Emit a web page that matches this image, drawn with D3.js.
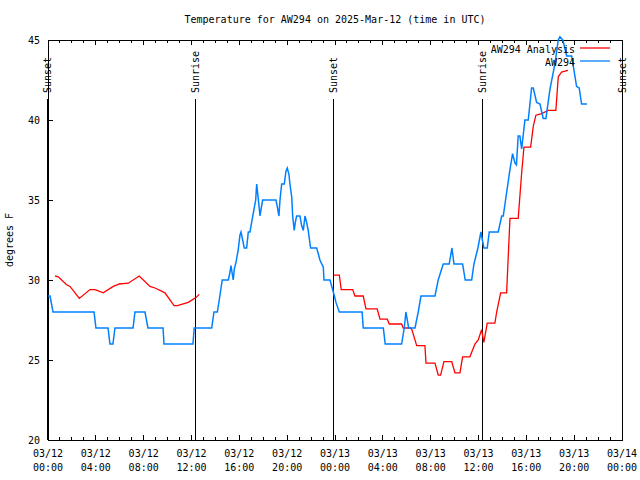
<!DOCTYPE html>
<html><head><meta charset="utf-8">
<script src="https://cdn.jsdelivr.net/npm/d3@7"></script>
<style>
html,body{margin:0;padding:0;background:#fff;}
text{font-family:"DejaVu Sans Mono","Liberation Mono",monospace;font-size:10px;fill:#000;}
</style></head>
<body>
<svg id="chart" width="640" height="480"></svg>
<script>
// ---- data (hours after 2025-03-12 00:00 UTC, temperature in degrees F) ----
const title = "Temperature for AW294 on 2025-Mar-12 (time in UTC)";
const yLabel = "degrees F";
const seriesNames = ["AW294 Analysis", "AW294"];
const seriesColors = ["#ff0000", "#0080ff"];

const stationHours = [0.00,0.17,0.42,3.85,4.01,5.02,5.18,5.43,5.60,7.11,7.27,8.11,8.36,9.62,9.70,12.12,12.23,13.69,13.88,14.16,14.32,14.57,15.08,15.22,15.30,15.49,15.58,15.72,15.91,16.05,16.14,16.28,16.41,16.61,16.75,16.89,17.03,17.22,17.37,17.45,17.58,17.73,17.81,17.95,19.06,19.17,19.31,19.40,19.54,19.76,19.90,20.01,20.15,20.23,20.38,20.46,20.59,20.68,20.79,21.07,21.21,21.35,21.49,21.63,21.76,21.96,22.47,22.74,23.02,23.08,23.58,23.95,24.08,24.36,26.27,26.36,28.04,28.20,29.57,29.79,29.93,30.16,30.69,30.96,31.19,32.36,32.63,33.05,33.55,33.78,33.95,34.67,34.89,35.43,35.62,35.95,36.20,36.45,36.73,36.90,37.65,37.94,38.07,38.63,38.85,39.05,39.17,39.32,39.46,39.61,39.88,40.16,40.44,40.58,40.86,41.14,41.41,41.64,41.97,42.39,42.67,42.81,43.06,43.37,43.79,44.20,44.42,44.62,45.07];
const stationTemps = [29,29,28,28,27,27,26,26,27,27,28,28,27,27,26,26,27,27,28,28,28.75,30,30,30.5,30.9,30,30.7,31.1,31.9,32.8,33,32.5,32,32,33,33,33.6,34.4,35,36,35.1,34,34.4,35,35,34.6,34,35,36,36,36.8,37,36.6,36,35.2,34,33.1,33.6,34,34,33.4,33.1,34,33.6,33.1,32,32,31.25,30.8,30,30,29,28.6,28,28,27,27,26,26,27,28,27,27,28,29,29,30,31,31,32,31,31,30,30,31,32,33,32,32,33,33,34,34,36.9,37.9,37.3,37.2,39,39,38.2,40,40,42,42,41.1,41,40.1,40.1,41.9,43.5,45,45.2,45,44,44,42.1,42,41,41];

const analysisHours1 = [0.59,0.86,1.56,1.84,2.62,3.51,3.93,4.62,5.46,5.96,6.71,7.63,8.53,8.95,9.78,10.54,10.81,11.73,12.37,12.65];
const analysisTemps1 = [30.25,30.2,29.7,29.6,28.85,29.4,29.4,29.2,29.6,29.75,29.8,30.25,29.6,29.5,29.2,28.4,28.4,28.6,28.9,29.1];
const analysisHours2 = [23.91,24.36,24.52,25.48,25.67,26.36,26.59,27.53,27.76,28.37,28.54,29.57,29.71,30.33,30.43,30.83,31.52,31.61,32.36,32.63,32.83,33.11,33.76,34.03,34.45,34.67,35.28,35.70,35.98,36.26,36.45,36.73,37.37,37.52,37.85,38.35,38.49,38.63,39.32,39.61,39.80,40.36,40.58,40.80,41.28,41.83,42.47,42.67,42.95,43.48];
const analysisTemps2 = [30.3,30.3,29.4,29.4,29.0,29.0,28.2,28.2,27.55,27.55,27.25,27.25,27.0,27.0,26.9,25.9,25.9,24.8,24.8,24.06,24.06,24.9,24.9,24.2,24.2,25.2,25.2,26.0,26.25,26.9,26.1,27.3,27.3,28.0,29.2,29.2,31.5,33.85,33.85,36.7,38.3,38.3,39.6,40.3,40.4,40.6,40.6,42.7,43.0,43.1];

const sunEventHours = [-0.05, 12.37, 23.91, 36.37, 48.05];
const sunEventNames = ["Sunset", "Sunrise", "Sunset", "Sunrise", "Sunset"];

const yDomain = [20, 45];
const yTickValues = [20, 25, 30, 35, 40, 45];

// ---- layout ----
const M = {left: 48, right: 622, top: 40, bottom: 440};
const t0 = Date.UTC(2025, 2, 12, 0, 0);
const toDate = h => new Date(t0 + h * 3600e3);

const svg = d3.select("#chart");
const x = d3.scaleUtc().domain([toDate(0), toDate(48)]).range([M.left, M.right]);
const y = d3.scaleLinear().domain(yDomain).range([M.bottom, M.top]);

// title
svg.append("text").attr("x", 335).attr("y", 23).attr("text-anchor", "middle").text(title);

// y label
svg.append("text").attr("transform", "translate(13,240) rotate(-90)").attr("text-anchor", "middle").text(yLabel);

// frame
const g = svg.append("g").attr("shape-rendering", "crispEdges");
g.append("rect").attr("x", M.left).attr("y", M.top).attr("width", M.right - M.left).attr("height", M.bottom - M.top)
  .attr("fill", "none").attr("stroke", "#000").attr("stroke-width", 1);

// bottom/top axis ticks (hourly minor, 4-hourly major), inward
const hourTicks = d3.utcHour.every(1).range(toDate(0), toDate(48.01));
hourTicks.forEach(d => {
  const major = d.getUTCHours() % 4 === 0;
  const len = major ? 5 : 3;
  g.append("line").attr("x1", x(d)).attr("x2", x(d)).attr("y1", M.bottom).attr("y2", M.bottom - len).attr("stroke", "#000");
  g.append("line").attr("x1", x(d)).attr("x2", x(d)).attr("y1", M.top).attr("y2", M.top + len).attr("stroke", "#000");
});

// bottom labels
const fmtDay = d3.utcFormat("%m/%d"), fmtTime = d3.utcFormat("%H:%M");
const majorTicks = x.ticks(d3.utcHour.every(4));
majorTicks.forEach(d => {
  const t = svg.append("text").attr("x", x(d)).attr("y", 457).attr("text-anchor", "middle");
  t.append("tspan").attr("x", x(d)).text(fmtDay(d));
  t.append("tspan").attr("x", x(d)).attr("dy", 14).text(fmtTime(d));
});

// y ticks and labels
yTickValues.forEach(v => {
  g.append("line").attr("x1", M.left).attr("x2", M.left + 5).attr("y1", y(v)).attr("y2", y(v)).attr("stroke", "#000");
  svg.append("text").attr("x", 40).attr("y", y(v)).attr("dy", "0.35em").attr("text-anchor", "end").text(v);
});

// sunrise / sunset lines
sunEventHours.forEach((h, i) => {
  const xx = x(toDate(h));
  g.append("line").attr("x1", xx).attr("x2", xx).attr("y1", 99).attr("y2", M.bottom).attr("stroke", "#000").attr("stroke-width", 1);
  svg.append("text").attr("transform", `translate(${xx},93) rotate(-90)`).attr("dy", "0.35em").attr("text-anchor", "start").text(sunEventNames[i]);
});

// lines
const line = d3.line().x(d => x(toDate(d[0]))).y(d => y(d[1]));
const a1 = analysisHours1.map((h, i) => [h, analysisTemps1[i]]);
const a2 = analysisHours2.map((h, i) => [h, analysisTemps2[i]]);
const st = stationHours.map((h, i) => [h, stationTemps[i]]);
[a1, a2].forEach(s => svg.append("path").attr("d", line(s)).attr("fill", "none").attr("stroke", seriesColors[0]).attr("stroke-width", 1.3));
svg.append("path").attr("d", line(st)).attr("fill", "none").attr("stroke", seriesColors[1]).attr("stroke-width", 1.5);

// legend
seriesNames.forEach((n, i) => {
  const ly = 49 + i * 13;
  svg.append("text").attr("x", 575).attr("y", ly).attr("dy", "0.35em").attr("text-anchor", "end").text(n);
  svg.append("line").attr("x1", 580).attr("x2", 610).attr("y1", ly - 1).attr("y2", ly - 1).attr("stroke", seriesColors[i]).attr("stroke-width", 1.3);
});
</script>
</body></html>
